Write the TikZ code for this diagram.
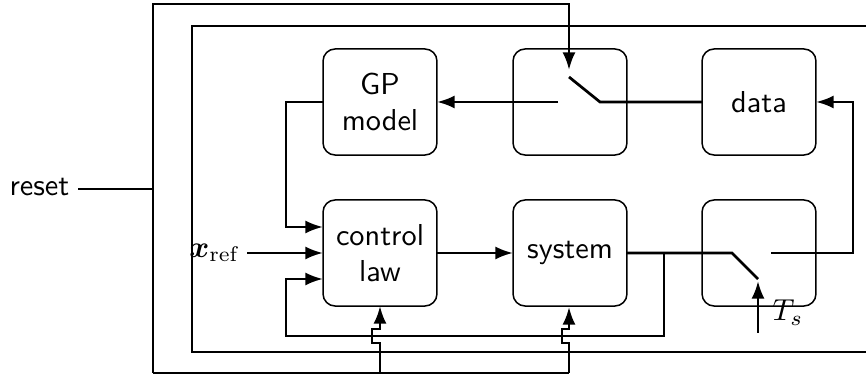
\documentclass[tikz,border=0pt]{standalone}
\usepackage{bm}
\usetikzlibrary{arrows.meta,calc}
\begin{document}
\begin{tikzpicture}[x=0.33pt,y=-0.33pt,
  box/.style={draw, line width=0.5pt, rounded corners=4pt, minimum width=37.6pt,
    minimum height=35pt, align=center, font=\sffamily, outer sep=0pt, inner sep=0pt},
  conn/.style={line width=0.9pt, line join=miter},
  arr/.style={conn, -{Latex[length=5.8pt,width=4.3pt]}},
  frame/.style={line width=0.5pt}]
\useasboundingbox (0,0) rectangle (866,378);

% inner frame (open to the right)
\draw[frame] (866,26) -- (192,26) -- (192,352) -- (866,352);

% boxes
\node[box] (gp)   at (380,102) {GP\\model};
\node[box] (sw1)  at (570,102) {};
\node[box] (data) at (759,102) {data};
\node[box] (ctrl) at (380,253) {control\\law};
\node[box] (sys)  at (570,253) {system};
\node[box] (sw2)  at (759,253) {};

% labels
\node[font=\sffamily, anchor=east, inner sep=1pt] (reset) at (73,187) {reset};
\node[anchor=east, inner sep=1pt] (xref) at (244,253) {$\bm{x}_{\mathrm{ref}}$};
\node[anchor=base west, inner sep=0pt] (ts) at (772,321) {$T_s$};

% switch 1 terminals
\coordinate (s1l) at (558,102);
\coordinate (s1o) at (569,77);
\coordinate (s1p) at (600,102);
\coordinate (s1t) at (569,70);
% switch 2 terminals
\coordinate (s2p) at (732,253);
\coordinate (s2o) at (758,279);
\coordinate (s2r) at (771,253);
% junction
\coordinate (jn) at (664,253);

% reset path
\coordinate (rl) at (153,189);
\draw[frame] (reset.east |- rl) ++(5,0) -- (rl);
\draw[arr] (153,373) -- (153,4) -- (569,4) -- (s1t);
\draw[conn] (153,373) -- (569,373);
\draw[arr] (380,373) -- (380,343) -- (372,343) -- (372,329) -- (380,329) -- (ctrl.south);
\draw[arr] (569,373) -- (569,343) -- (562,343) -- (562,329) -- (569,329) -- (569,307);

% switch 1
\draw[conn] (s1o) -- (s1p) -- (data.west);
\draw[arr] (s1l) -- (gp.east);

% GP -> control
\draw[arr] (gp.west) -- (286,102) -- (286,227) -- ($(ctrl.west)+(0,-26)$);
% x_ref
\draw[arr] (xref.east) ++(3,0) -- (ctrl.west);
% feedback
\draw[arr] (jn) -- (664,336) -- (286,336) -- (286,279) -- ($(ctrl.west)+(0,26)$);
% control -> system
\draw[arr] (ctrl.east) -- (sys.west);
% system -> switch 2
\draw[conn] (sys.east) -- (s2p) -- (s2o);
% switch 2 -> data
\draw[arr] (s2r) -- (853,253) -- (853,102) -- (data.east);
% T_s
\draw[arr] (758,333) -- (758,281);
\end{tikzpicture}
\end{document}
